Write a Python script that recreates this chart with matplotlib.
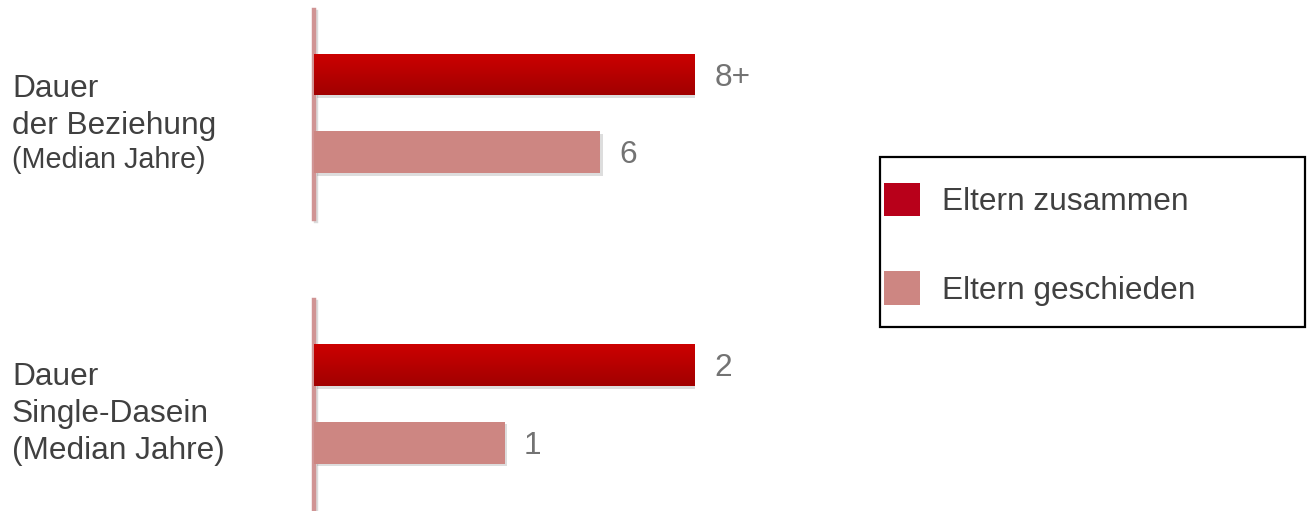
import numpy as np
import matplotlib
matplotlib.use("Agg")
import matplotlib.pyplot as plt
from matplotlib.patches import Patch, Rectangle
from matplotlib.colors import LinearSegmentedColormap
import matplotlib.patheffects as pe

plt.rcParams["font.family"] = ["Liberation Sans", "DejaVu Sans"]

# Data
series = ["Eltern zusammen", "Eltern geschieden"]
category_lines = [
    ["Dauer", "der Beziehung", "(Median Jahre)"],
    ["Dauer", "Single-Dasein", "(Median Jahre)"],
]
together = [8, 2]
divorced = [6, 1]
together_labels = ["8+", "2"]
divorced_labels = ["6", "1"]

# Styling
DARK_TOP = "#cc0000"
DARK_BOTTOM = "#a10000"
DARK_SOLID = "#b8001a"
PINK = "#cd8682"
AXIS_PINK = "#d09494"
TEXT = "#404040"
VALUE_TEXT = "#737373"
FS = 22.8

W, H = 1307, 511
fig = plt.figure(figsize=(W / 100, H / 100), dpi=100)
fig.patch.set_facecolor("white")


def box(left, top, width, bottom):
    return [left / W, 1 - bottom / H, width / W, (bottom - top) / H]


panels = [
    dict(rect=box(314, 10, 381, 219), text_base=[97, 134, 168], sizes=[FS, FS, 20.7]),
    dict(rect=box(314, 300, 381, 510), text_base=[385, 422, 459], sizes=[FS, FS, FS]),
]

grad_cmap = LinearSegmentedColormap.from_list("darkred", [DARK_TOP, DARK_BOTTOM])
gradient = np.linspace(0, 1, 64).reshape(-1, 1)
shadow = [pe.SimplePatchShadow(offset=(2, -2), shadow_rgbFace="#7a7a7a", alpha=0.25), pe.Normal()]

bar_h = 0.54
ylims = (1.868, -0.835)

for i, p in enumerate(panels):
    ax = fig.add_axes(p["rect"])
    ax.set_facecolor("none")
    vmax = together[i]
    vals = [together[i], divorced[i]]
    labels = [together_labels[i], divorced_labels[i]]
    bars = ax.barh([0, 1], vals, height=bar_h, color=[DARK_SOLID, PINK], zorder=2)
    for b in bars:
        b.set_path_effects(shadow)
    # vertical gradient on the first bar
    b0 = bars[0]
    im = ax.imshow(gradient, cmap=grad_cmap, aspect="auto", origin="upper",
                   extent=(0, vals[0], 0 + bar_h / 2, 0 - bar_h / 2), zorder=2.1,
                   interpolation="bilinear")
    im.set_clip_path(b0)
    for y, v, lab in zip([0, 1], vals, labels):
        ax.annotate(lab, xy=(v, y), xytext=(14, -8), textcoords="offset points",
                    ha="left", va="baseline", fontsize=FS, color=VALUE_TEXT)
    ax.set_xlim(0, vmax)
    ax.set_ylim(*ylims)
    for s in ["top", "right", "bottom"]:
        ax.spines[s].set_visible(False)
    ax.spines["left"].set_color(AXIS_PINK)
    ax.spines["left"].set_linewidth(3.2)
    ax.spines["left"].set_zorder(1.5)
    ax.spines["left"].set_path_effects(
        [pe.SimpleLineShadow(offset=(1.5, -1.5), shadow_color="#888888", alpha=0.3), pe.Normal()])
    ax.set_xticks([])
    ax.set_yticks([])

    for line, base, size in zip(category_lines[i], p["text_base"], p["sizes"]):
        fig.text(12 / W, 1 - base / H, line, ha="left", va="baseline",
                 fontsize=size, color=TEXT)

# Legend with a boxed frame
frame = Rectangle((880 / W, 1 - 327 / H), (1305 - 880) / W, (327 - 157) / H,
                  transform=fig.transFigure, fill=False, edgecolor="black", linewidth=1.6)
fig.patches.append(frame)
handles = [Patch(facecolor=DARK_SOLID, edgecolor="none"),
           Patch(facecolor=PINK, edgecolor="none")]
leg = fig.legend(handles, series, loc="upper left",
                 bbox_to_anchor=(884 / W, 1 - 183 / H), frameon=False,
                 fontsize=FS, handlelength=1.14, handleheight=1.25,
                 handletextpad=0.7, labelspacing=1.7, borderpad=0, borderaxespad=0)
for t in leg.get_texts():
    t.set_color(TEXT)

fig.savefig("out.png", dpi=100, facecolor="white")
